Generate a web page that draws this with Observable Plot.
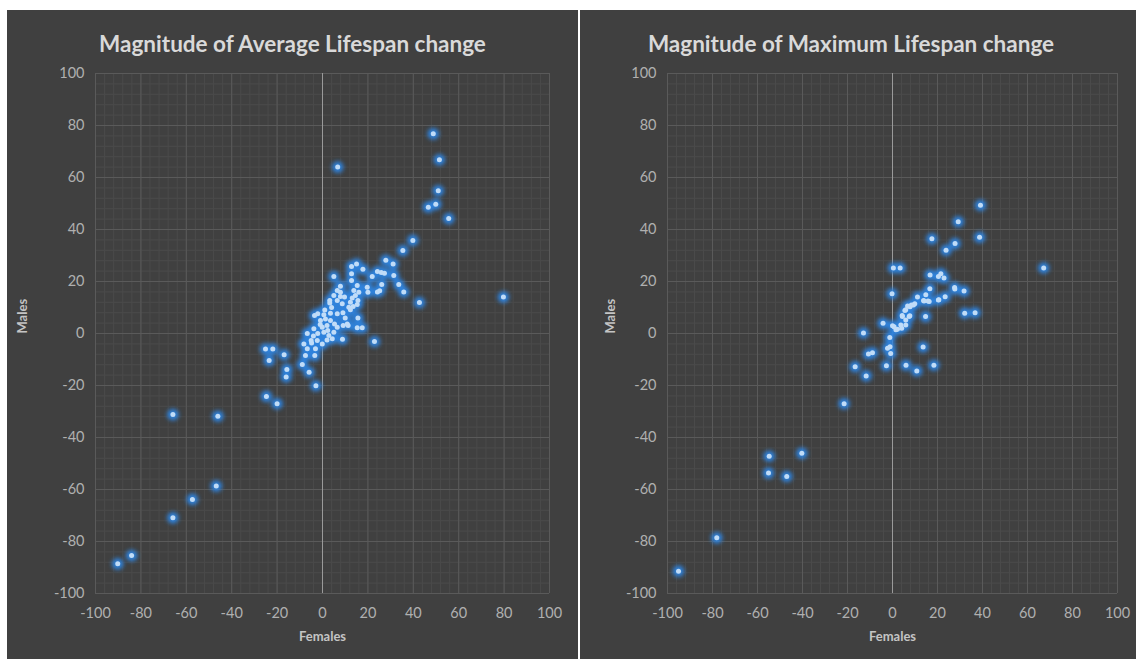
<!DOCTYPE html>
<html><head><meta charset="utf-8">
<script src="https://cdn.jsdelivr.net/npm/d3@7"></script>
<script src="https://cdn.jsdelivr.net/npm/@observablehq/plot@0.6"></script>
<style>
body{margin:0;background:#fff;width:1136px;height:659px;overflow:hidden;font-family:Lato,"Open Sans",sans-serif;}
.panel{position:absolute;background:#404040;overflow:hidden}
.panel svg{position:absolute;left:0;top:0}
.title{position:absolute;left:0;right:0;top:20px;text-align:center;color:#d9d9d9;font-weight:bold;font-size:22.5px;z-index:2;white-space:nowrap}
</style></head><body>
<div id="left" class="panel" style="left:7px;top:10px;width:571px;height:649px"><div class="title">Magnitude of Average Lifespan change</div></div>
<div id="right" class="panel" style="left:580px;top:10px;width:556px;height:649px"><div class="title" style="left:-14px">Magnitude of Maximum Lifespan change</div></div>
<script>
// [Females, Males] magnitude of change (%)
const avgChange = [
[-90.2,-88.6],[-84.1,-85.4],[-65.9,-31.2],[-46.1,-31.8],[-46.8,-58.7],[-57.3,-63.8],[-65.9,-70.9],
[-25.1,-6],[-21.9,-6],[-23.5,-10.4],[-16.9,-8.2],[-15.7,-13.8],[-16,-16.7],[-24.7,-24.2],[-20,-27],
[-8.9,-11.9],[-5.9,-14.9],[-2.9,-20.1],[-7.5,-8.5],[-3.4,-8.5],
[39.8,35.8],[35.4,31.9],[27.9,28.2],[31.1,26.7],[12.8,25.8],[15,26.7],[17.8,24.7],[5,21.9],[12.8,23],[21.9,21.9],
[24.2,23.8],[25.9,23.5],[27.3,23.2],[31.4,22.3],[26.1,18.8],[33.6,18.8],[35.8,16],[24.2,16],[25.2,16.4],[19.7,17.8],[20,15.9],[42.7,11.9],
[12.8,20.4],[15.3,18.5],[13.8,16.5],[16,15.9],[14.5,14.6],[13.1,13.7],[15.6,12.7],[12.3,12],[13.5,10.4],[15.3,11.2],
[12.3,9.1],[15.6,6],[15.3,2.2],[17.5,2.2],[11.3,3.1],[9.1,3.1],[8.8,-2.2],[22.9,-3.1],
[7.9,18.2],[6.5,16.5],[7.9,15.9],[5,14.6],[3.2,12.7],[3.2,11.7],[6.5,12.7],[7.9,14.2],[9.7,14],[8.7,11.4],[11.6,10.1],
[6.5,7.6],[3.5,7.8],[0.6,7.2],
[-3.5,6.9],[-2.1,7.6],[-0.9,5],[1.3,5.6],[3.5,5],[5.3,3.7],[2,3.1],[-0.1,2.4],[-3.8,1.8],[-2.1,0],[0.6,0.5],[2.8,-0.8],
[4.3,-2],[-0.1,-4],[-2.3,-2.7],[-5,-2.7],[-6.7,0],[-8.2,-4],[-6.7,-5.9],[-4.8,-3.7],[-3.1,-5.9],
[6.5,2.4],[10.9,3.7],[2.3,1.2],[5,0.5],[1,9],[-1,3.5],[4,10],[9,8],[10,6],[2,-2.5],[-4,-1],
[48.8,76.8],[51.5,66.8],[6.7,64],[51,54.9],[49.9,49.7],[46.6,48.6],[55.6,44.2],[79.7,14]
];
const maxChange = [
[-95.1,-91.4],[-78.1,-78.6],[-54.8,-47.2],[-55.1,-53.7],[-47,-55],[-40.3,-46.1],[-21.5,-27],
[-16.6,-12.8],[-11.7,-16.3],[-10.7,-7.9],[-8.9,-7.4],[-12.9,0.2],[-4.2,3.9],[-1.2,-1.5],[-2.2,-5.7],[-1.1,-5.1],
[-0.8,-7.7],[-2.7,-12.4],[6,-12.2],[10.8,-14.4],[18.4,-12.2],[13.6,-5.2],[14.7,6.5],[32.1,7.8],[36.7,8],
[0.7,2.6],[2.2,1.6],[4.1,2],[5.9,3.3],[4.4,6.5],[5.9,9.1],[7.7,6.8],[6.7,10.6],[8.4,11],[9.9,11.4],[14,12.5],[15.8,12.5],[20.4,12.9],
[39.1,49.3],[29.2,43],[38.7,37],[17.5,36.4],[27.8,34.6],[23.8,32],[0.4,25.2],[3.4,25.2],[67.2,25.2],
[16.7,22.5],[20.4,21.9],[21.5,23],[22.9,21.3],[27.6,17.7],[27.7,17.1],[31.8,16.3],[-0.2,15.3],[16.6,17.2],
[14.8,14.9],[13.8,12.7],[16.3,12.3],[11.1,14],[20.6,13],[23.4,14.1],
[9.3,11],[7.8,10.3],[5.5,8.8],[4.3,6.9],[7.4,6.5],[5.9,5.2],[3.7,3.3],[1.5,1.4],[0,3]
];
const axisTicks = [-100,-80,-60,-40,-20,0,20,40,60,80,100];
const minorTicks = d3.range(-100, 101, 4);
const xLabel = "Females", yLabel = "Males";

function chart(data, o) {
  const svg = Plot.plot({
    width: o.width, height: 649,
    marginLeft: o.ml, marginRight: o.mr, marginTop: 63, marginBottom: 66,
    x: {domain: [-100, 100]}, y: {domain: [-100, 100]},
    style: {background: "transparent", fontFamily: "Lato, 'Open Sans', sans-serif", fontSize: "14.5px", color: "#b0b0b0"},
    marks: [
      Plot.ruleX(minorTicks, {stroke: "#4a4a4a", strokeWidth: 1}),
      Plot.ruleY(minorTicks, {stroke: "#4a4a4a", strokeWidth: 1}),
      Plot.ruleX(axisTicks, {stroke: "#5a5a5a", strokeWidth: 1}),
      Plot.ruleY(axisTicks, {stroke: "#5a5a5a", strokeWidth: 1}),
      Plot.ruleX([0], {stroke: "#9a9a9a", strokeWidth: 1}),
      Plot.axisX(axisTicks, {tickSize: 0, tickPadding: 14, tickFormat: d => String(d), label: null, fill: "#b0b0b0"}),
      Plot.axisY(axisTicks, {tickSize: 0, tickPadding: 11, tickFormat: d => String(d), label: null, fill: "#b0b0b0"}),
      Plot.dot(data, {x: d => d[0], y: d => d[1], r: 5.8, fill: "#2f82dc", fillOpacity: 1, stroke: "none"}),
      Plot.dot(data, {x: d => d[0], y: d => d[1], r: 2.5, fill: "#c0dcf8", stroke: "none"}),
      Plot.text([yLabel], {frameAnchor: "left", dx: o.ydx, rotate: -90, fontWeight: "bold", fontSize: 13, fill: "#c4c4c4"}),
      Plot.text([xLabel], {frameAnchor: "bottom", dy: 47, fontWeight: "bold", fontSize: 13, fill: "#c4c4c4"})
    ]
  });
  const ns = "http://www.w3.org/2000/svg";
  const defs = document.createElementNS(ns, "defs");
  const f = document.createElementNS(ns, "filter");
  f.setAttribute("id", o.id); f.setAttribute("x", "-50%"); f.setAttribute("y", "-50%");
  f.setAttribute("width", "200%"); f.setAttribute("height", "200%");
  const b = document.createElementNS(ns, "feGaussianBlur");
  b.setAttribute("stdDeviation", "2");
  f.appendChild(b); defs.appendChild(f); svg.insertBefore(defs, svg.firstChild);
  const dots = svg.querySelectorAll("g[aria-label='dot']");
  if (dots.length) dots[0].setAttribute("filter", `url(#${o.id})`);
  return svg;
}
document.getElementById("left").appendChild(chart(avgChange, {width: 571, ml: 88, mr: 29, ydx: -73, id: "glowL"}));
document.getElementById("right").appendChild(chart(maxChange, {width: 556, ml: 87, mr: 19, ydx: -57, id: "glowR"}));
</script>
</body></html>
